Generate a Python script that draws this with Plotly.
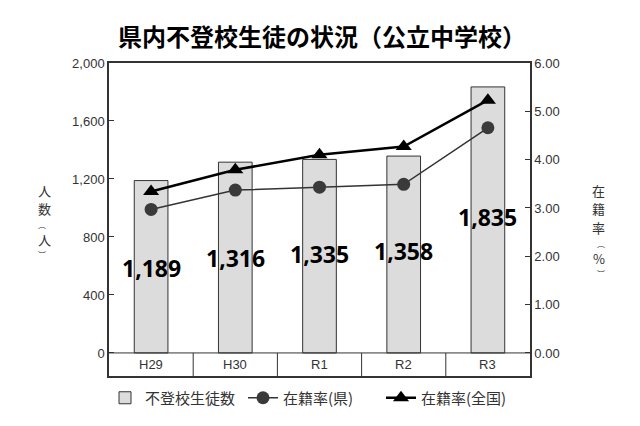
import plotly.graph_objects as go

categories = ["H29", "H30", "R1", "R2", "R3"]
students = [1189, 1316, 1335, 1358, 1835]
rate_pref = [2.97, 3.37, 3.43, 3.49, 4.66]
rate_nat = [3.34, 3.79, 4.10, 4.27, 5.23]
label_y = [586, 655, 683, 705, 935]
left_ticks = [0, 400, 800, 1200, 1600, 2000]
right_ticks = [0, 1, 2, 3, 4, 5, 6]
left_title = ["人", "数", "︵", "人", "︶"]
right_title = ["在", "籍", "率", "︵", "%", "︶"]

JP = "Noto Sans CJK JP"
NUM = "Liberation Sans"
xs = list(range(len(categories)))

# page body has 8px margin; work in page coordinates and convert
OFF = 8
W, H = 624, 410
L, T = 109 - OFF, 63 - OFF
R = W - (530 - OFF)
B = H - (376 - OFF)
pw, ph = W - L - R, H - T - B

def px(xp, yp):
    return ((xp - OFF) - L) / pw, (H - B - (yp - OFF)) / ph

fig = go.Figure()
fig.add_trace(go.Bar(
    x=xs, y=students, name="不登校生徒数", width=0.4,
    marker=dict(color="#dcdcdc", line=dict(color="#333333", width=1)),
    yaxis="y",
))
fig.add_trace(go.Scatter(
    x=xs, y=rate_pref, name="在籍率(県)", mode="lines+markers",
    line=dict(color="#333333", width=1.5),
    marker=dict(symbol="circle", size=13, color="#3a3a3a"),
    yaxis="y2",
))
fig.add_trace(go.Scatter(
    x=xs, y=rate_nat, name="在籍率(全国)", mode="lines+markers",
    line=dict(color="#000000", width=2.5),
    marker=dict(symbol="triangle-up", size=14, color="#000000"),
    yaxis="y2",
))

ymin = -159
shapes = [dict(type="line", xref="x", yref="y", x0=-0.5, x1=4.5, y0=0, y1=0,
               line=dict(color="#333333", width=1))]
for i in range(len(categories) - 1):
    shapes.append(dict(type="line", xref="x", yref="y", x0=i + 0.5, x1=i + 0.5,
                       y0=ymin, y1=0, line=dict(color="#333333", width=1)))

annotations = []
for i, c in enumerate(categories):
    annotations.append(dict(x=i, y=ymin / 2, xref="x", yref="y", text=c, showarrow=False,
                            font=dict(family=NUM, size=13, color="#333333")))
for i, v in enumerate(students):
    annotations.append(dict(x=i, y=label_y[i], xref="x", yref="y", text=f"<b>{v:,}</b>",
                            showarrow=False, font=dict(family="Noto Sans", size=23, color="#000000")))

def stack(chars, xc, y0):
    sizes = [8 if c in "︵︶" else 13 for c in chars]
    y = y0
    prev = None
    for c, s in zip(chars, sizes):
        if prev is not None:
            y += (prev + s) * 1.46 / 2
        ax, ay = px(xc, y)
        annotations.append(dict(x=ax, y=ay, xref="paper", yref="paper", text=c, showarrow=False,
                                yanchor="middle", font=dict(family=JP, size=s, color="#333333")))
        prev = s

stack(left_title, 36, 190)
stack(right_title, 607, 190)

fig.update_layout(
    width=W, height=H,
    paper_bgcolor="white", plot_bgcolor="white",
    margin=dict(l=L, r=R, t=T, b=B, autoexpand=False),
    title=dict(text="<b>県内不登校生徒の状況（公立中学校）</b>", x=(322 - OFF) / W, xanchor="center",
               y=1 - (38 - OFF) / H, yanchor="middle",
               font=dict(family=JP, size=24, color="#000000")),
    xaxis=dict(range=[-0.5, 4.5], showticklabels=False, ticks="", showgrid=False, zeroline=False,
               showline=True, mirror=True, linecolor="#333333", linewidth=1.5),
    yaxis=dict(range=[ymin, 2000], tickvals=left_ticks, ticktext=[f"{t:,}" for t in left_ticks],
               ticks="inside", ticklen=5, tickcolor="#333333", showgrid=False, zeroline=False,
               showline=True, linecolor="#333333", linewidth=1.5,
               tickfont=dict(family=NUM, size=13, color="#333333")),
    yaxis2=dict(range=[ymin / 2000 * 6, 6], tickvals=right_ticks,
                ticktext=[f"{t:.2f}" for t in right_ticks], overlaying="y", side="right",
                ticks="inside", ticklen=5, tickcolor="#333333", showgrid=False, zeroline=False,
                showline=True, linecolor="#333333", linewidth=1.5,
                tickfont=dict(family=NUM, size=13, color="#333333")),
    legend=dict(orientation="h", x=(312 - OFF) / W, xanchor="center", xref="container",
                y=1 - (398 - OFF) / H, yanchor="middle", yref="container",
                font=dict(family=JP, size=15, color="#333333"),
                entrywidth=93, entrywidthmode="pixels",
                traceorder="normal"),
    shapes=shapes,
    annotations=annotations,
    showlegend=True,
)

fig.write_html("out.html")
